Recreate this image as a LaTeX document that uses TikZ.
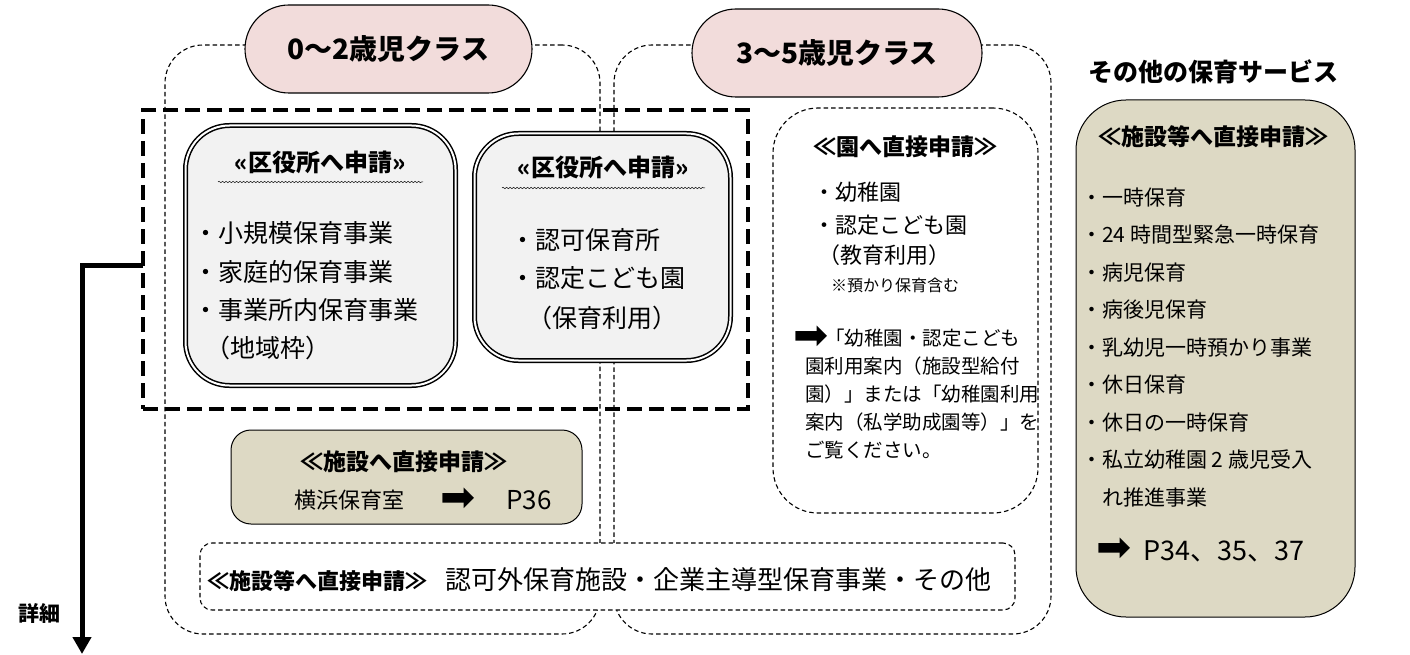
\documentclass[tikz,border=0pt]{standalone}
\usepackage{fontspec}
\newfontfamily\jp{Noto Sans CJK JP}
\newfontfamily\sym{DejaVu Sans}
\usetikzlibrary{decorations.pathmorphing,arrows.meta}
\definecolor{pinkf}{HTML}{F2DCDB}
\definecolor{khaki}{HTML}{DDD9C4}
\definecolor{greyf}{HTML}{F2F2F2}
\newcommand{\fsz}[1]{\fontsize{#1}{#1}\selectfont}
\begin{document}
\begin{tikzpicture}[x=1pt,y=-1pt,
  thindash/.style={draw=black, line width=1.1pt, dash pattern=on 4.5pt off 3pt},
  box/.style={inner sep=0pt, outer sep=0pt},
  grp/.style={box, thindash, rounded corners=38pt},
  pill/.style={box, draw=black, line width=1.1pt, fill=pinkf, rounded corners=44pt, minimum height=88pt, font=\jp\bfseries\fsz{28}},
  dbl/.style={box, draw=black, line width=1.5pt, double=white, double distance=2pt, fill=greyf, rounded corners=44pt},
  khakibox/.style={box, draw=black, line width=1pt, fill=khaki},
  txt/.style={inner sep=0pt, anchor=base west, font=\jp},
  ctr/.style={inner sep=0pt, anchor=base, font=\jp},
  arr/.style={inner sep=0pt, font=\sym\fsz{42}},
  wavy/.style={decorate, decoration={snake, amplitude=0.7pt, segment length=3.5pt}, line width=0.5pt},
]
\useasboundingbox (0,0) rectangle (1410,655);
\fill[white] (0,0) rectangle (1410,655);

% class groups
\node[grp, minimum width=435pt, minimum height=589pt] (grpL) at (382.5,339.5) {};
\node[grp, minimum width=437pt, minimum height=589pt] (grpR) at (832.5,339.5) {};

% thick dashed selection frame
\node[box, draw=black, line width=4pt, dash pattern=on 15pt off 7pt, minimum width=605pt, minimum height=299pt] (sel) at (445.5,259.5) {};

% double-border boxes
\node[dbl, minimum width=270pt, minimum height=260pt] (b1) at (320.5,255.5) {};
\node[dbl, minimum width=256pt, minimum height=227pt] (b2) at (602.5,247) {};

% kindergarten box
\node[box, thindash, rounded corners=45pt, minimum width=265pt, minimum height=405pt] (en) at (905.5,310.5) {};

% yokohama box
\node[khakibox, rounded corners=20pt, minimum width=351pt, minimum height=94pt] (yb) at (406.5,477) {};

% bottom box
\node[box, thindash, fill=white, rounded corners=12pt, minimum width=815pt, minimum height=67pt] (bb) at (607.5,576.5) {};

% right box
\node[khakibox, rounded corners=50pt, minimum width=279pt, minimum height=517pt] (rb) at (1215.5,358.5) {};

% headers
\node[pill, minimum width=287pt] (h1) at (388.5,49) {0〜2歳児クラス};
\node[pill, minimum width=290pt] (h2) at (837,53) {3〜5歳児クラス};

% box 1
\node[ctr, font=\jp\bfseries\fsz{24}] (t1) at (320,172) {«区役所へ申請»};
\draw[wavy] (218,182) -- (423,182);
\node[txt, font=\jp\fsz{25}] (b1a) at (193,242.5) {・小規模保育事業};
\node[txt, font=\jp\fsz{25}] (b1b) at (193,281.5) {・家庭的保育事業};
\node[txt, font=\jp\fsz{25}] (b1c) at (193,319.5) {・事業所内保育事業};
\node[txt, font=\jp\fsz{25}] (b1d) at (205,357.5) {（地域枠）};

% box 2
\node[ctr, font=\jp\bfseries\fsz{24}] (t2) at (603,177) {«区役所へ申請»};
\draw[wavy] (502,188) -- (705,188);
\node[txt, font=\jp\fsz{25}] (b2a) at (510,249.5) {・認可保育所};
\node[txt, font=\jp\fsz{25}] (b2b) at (510,287.5) {・認定こども園};
\node[txt, font=\jp\fsz{25}] (b2c) at (527,327.5) {（保育利用）};

% kindergarten box text
\node[ctr, font=\jp\bfseries\fsz{23}] (te) at (905,155.7) {≪園へ直接申請≫};
\node[txt, font=\jp\fsz{22}] (ea) at (813,200.4) {・幼稚園};
\node[txt, font=\jp\fsz{22}] (eb) at (813,233.4) {・認定こども園};
\node[txt, font=\jp\fsz{22}] (ec) at (818,263.4) {（教育利用）};
\node[txt, font=\jp\fsz{16}] (ed) at (831,291) {※預かり保育含む};
\node[arr] (ear) at (811,338) {➡};
\node[txt, font=\jp\fsz{19.5}] (p1) at (825,345) {「幼稚園・認定こども};
\node[txt, font=\jp\fsz{19.5}] (p2) at (805,373) {園利用案内（施設型給付};
\node[txt, font=\jp\fsz{19.5}] (p3) at (805,401) {園）」または「幼稚園利用};
\node[txt, font=\jp\fsz{19.5}] (p4) at (805,429) {案内（私学助成園等）」を};
\node[txt, font=\jp\fsz{19.5}] (p5) at (805,457) {ご覧ください。};

% yokohama box text
\node[ctr, font=\jp\bfseries\fsz{23}] (ty) at (404,470.7) {≪施設へ直接申請≫};
\node[txt, font=\jp\fsz{22}] (ya) at (294,508) {横浜保育室};
\node[arr] (yar) at (458,500) {➡};
\node[txt, font=\jp\fsz{26}] (yp) at (506,509.5) {P36};

% bottom box text
\node[txt, font=\jp\fsz{26}] (bt) at (207,589.5) {{\bfseries\fsz{22}≪施設等へ直接申請≫}\hspace{18pt}認可外保育施設・企業主導型保育事業・その他};

% right column
\node[ctr, font=\jp\bfseries\fsz{25}] (so) at (1213,81.5) {その他の保育サービス};
\node[ctr, font=\jp\bfseries\fsz{23}] (tr) at (1213,145.7) {≪施設等へ直接申請≫};
\foreach \t [count=\i from 0] in {・一時保育,・24 時間型緊急一時保育,・病児保育,・病後児保育,・乳幼児一時預かり事業,・休日保育,・休日の一時保育,・私立幼稚園 2 歳児受入}{
  \node[txt, font=\jp\fsz{21}] (ri\i) at (1081,205+37.5*\i) {\t};
}
\node[txt, font=\jp\fsz{21}] (ri8) at (1102,505) {れ推進事業};
\node[arr] (rar) at (1114,550) {➡};
\node[txt, font=\jp\fsz{27}] (rp) at (1143,560) {P34、35、37};

% detail arrow
\coordinate (tip) at (82,654);
\draw[line width=5pt, -{Triangle[width=18pt,length=17pt]}] ([yshift=-5.5pt]sel.west) -| (tip);
\node[txt, font=\jp\bfseries\fsz{21}] (sd) at (18,621) {詳細};
\end{tikzpicture}
\end{document}
